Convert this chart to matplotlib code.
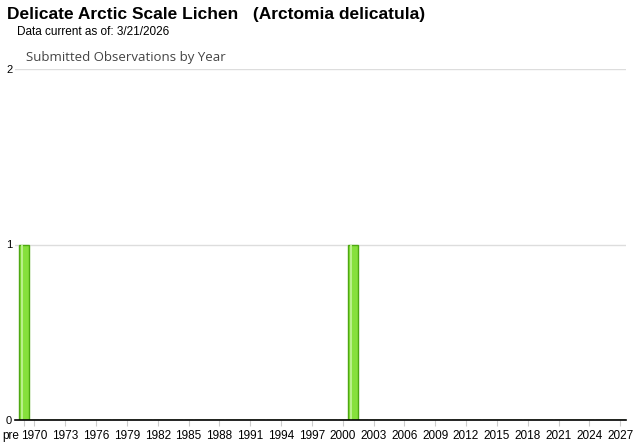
import numpy as np
import matplotlib
matplotlib.use("Agg")
import matplotlib.pyplot as plt
import matplotlib.transforms as mtransforms

""" ------------------- Data ------------------- """

# categories: "pre" followed by every year 1970..2027
years = ["pre"] + [str(y) for y in range(1970, 2028)]
counts = [0] * len(years)
counts[years.index("pre")] = 1
counts[years.index("2001")] = 1

tick_labels = ["pre"] + [str(y) for y in range(1970, 2028, 3)]

title = "Delicate Arctic Scale Lichen   (Arctomia delicatula)"
subtitle = "Data current as of: 3/21/2026"
chart_title = "Submitted Observations by Year"

""" ------------------- Plot ------------------- """

plt.rcParams['font.family'] = ['Liberation Sans', 'DejaVu Sans']

W, H = 640, 442
fig = plt.figure(figsize=(W / 100, H / 100), dpi=100)
ax = fig.add_axes([15 / W, 22 / H, (626 - 15) / W, (420 - 69) / H])

x = np.arange(len(years))
ax.bar(x, counts, width=0.97, color='#86e03c', edgecolor='#4ea812', linewidth=1.0, zorder=3)
# light highlight stripe on the left side of each bar
ax.bar(x - 0.22, counts, width=0.18, color='#b9f08a', linewidth=0, zorder=4)

ax.set_xlim(-0.88, 58.56)
ax.set_ylim(0, 2)
ax.set_yticks([0, 1, 2])
ax.set_yticklabels(['0', '1', '2'], fontsize=8)
ax.yaxis.grid(True, color='#dddddd', linewidth=1, zorder=0)
ax.tick_params(axis='y', length=0, pad=2)

tick_pos = [years.index(t) for t in tick_labels]
ax.set_xticks(tick_pos)
ax.set_xticklabels(tick_labels, fontsize=8.5)
ax.tick_params(axis='x', length=4, color='#cccccc', pad=3, direction='out')
# the "pre" label sits left of its slot
lab = ax.get_xticklabels()[0]
lab.set_transform(lab.get_transform() + mtransforms.ScaledTranslation(-13 / 100, 0, fig.dpi_scale_trans))

for s in ['top', 'right', 'left']:
    ax.spines[s].set_visible(False)
ax.spines['bottom'].set_color('black')
ax.spines['bottom'].set_linewidth(1.2)
ax.spines['bottom'].set_zorder(5)

fig.text(7 / W, 1 - 15 / H, title, fontsize=12.5, fontweight='bold', va='center', ha='left')
fig.text(17 / W, 1 - 32 / H, subtitle, fontsize=8.5, va='center', ha='left')
fig.text(26 / W, 1 - 58 / H, chart_title, fontsize=9.5, color='#444444', va='center', ha='left',
         family=['Open Sans', 'DejaVu Sans'])

fig.savefig("out.png", dpi=100)
